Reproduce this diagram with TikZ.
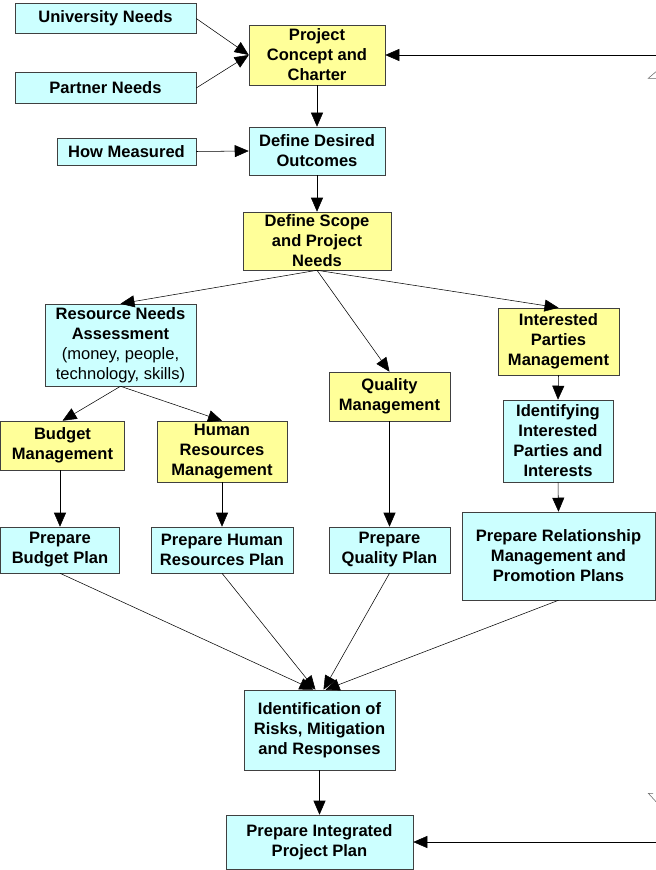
\documentclass[tikz,border=0pt]{standalone}
\usepackage{fontspec}
\setmainfont{Liberation Sans}
\usetikzlibrary{arrows.meta}

\definecolor{boxcyan}{HTML}{CCFFFF}
\definecolor{boxyellow}{HTML}{FFFF99}

\tikzset{
  box/.style={draw=black!75, thin, align=center, inner sep=0pt,
    font=\fontsize{12.4}{15}\selectfont\bfseries},
  cyanbox/.style={box, fill=boxcyan},
  yellowbox/.style={box, fill=boxyellow},
  flow/.style={-{Triangle[length=10.5pt,width=9pt]}, thin}
}

\begin{document}
\begin{tikzpicture}[x=0.75pt, y=-0.75pt]

\useasboundingbox (0,0) rectangle (656,870);

% Inputs and charter
\node[cyanbox, minimum width=135.75pt, minimum height=22.5pt] (univ) at (105.5,18.5) {University Needs};
\node[cyanbox, minimum width=135.75pt, minimum height=23.25pt] (partner) at (105.5,88) {Partner Needs};
\node[yellowbox, minimum width=102pt, minimum height=45pt] (concept) at (317,55) {Project\\Concept and\\Charter};
\node[cyanbox, minimum width=104.25pt, minimum height=20.25pt] (measured) at (126.5,151.5) {How Measured};
\node[cyanbox, minimum width=102pt, minimum height=36pt] (outcomes) at (317,151) {Define Desired\\Outcomes};
\node[yellowbox, minimum width=111pt, minimum height=43.5pt] (scope) at (317,241) {Define Scope\\and Project\\Needs};

% Second level
\node[cyanbox, minimum width=113.25pt, minimum height=61.5pt] (resource) at (120.5,345)
  {Resource Needs\\Assessment\\{\mdseries(money, people,}\\{\mdseries technology, skills)}};
\node[yellowbox, minimum width=90.75pt, minimum height=36.75pt] (quality) at (389.5,396.5) {Quality\\Management};
\node[yellowbox, minimum width=90.75pt, minimum height=50.25pt] (parties) at (558.5,341.5) {Interested\\Parties\\Management};

% Third level
\node[yellowbox, minimum width=93pt, minimum height=36.75pt] (budget) at (62.5,445.5) {Budget\\Management};
\node[yellowbox, minimum width=97.5pt, minimum height=45.75pt] (humanres) at (222,451.5) {Human\\Resources\\Management};
\node[cyanbox, minimum width=82.5pt, minimum height=61.5pt] (identify) at (558,441) {Identifying\\Interested\\Parties and\\Interests};

% Plans
\node[cyanbox, minimum width=89.25pt, minimum height=34.5pt] (budgetplan) at (60,550) {Prepare\\Budget Plan};
\node[cyanbox, minimum width=106.5pt, minimum height=34.5pt] (hrplan) at (222,550) {Prepare Human\\Resources Plan};
\node[cyanbox, minimum width=90.75pt, minimum height=34.5pt] (qualityplan) at (389.5,550) {Prepare\\Quality Plan};
\node[cyanbox, minimum width=144.75pt, minimum height=66pt] (relplan) at (558.5,556) {Prepare Relationship\\Management and\\Promotion Plans};

% Risks and integrated plan
\node[cyanbox, minimum width=113.25pt, minimum height=60pt] (risks) at (319.5,730) {Identification of\\Risks, Mitigation\\and Responses};
\node[cyanbox, minimum width=140.25pt, minimum height=40.5pt] (integrated) at (319.5,842) {Prepare Integrated\\Project Plan};

% feedback ends (cut off at the right edge)
\coordinate (fbtop) at (656,55);
\coordinate (fbbot) at (656,842);

% Connectors
\draw[flow] (univ.east) -- (concept.west);
\draw[flow] (partner.east) -- (concept.west);
\draw[flow] (concept.south) -- (outcomes.north);
\draw[flow] (measured.east) -- (outcomes.west);
\draw[flow] (outcomes.south) -- (scope.north);
\foreach \n in {resource, quality, parties}
  \draw[flow] (scope.south) -- (\n.north);
\foreach \n in {budget, humanres}
  \draw[flow] (resource.south) -- (\n.north);
\draw[flow] (parties.south) -- (identify.north);
\draw[flow] (identify.south) -- (relplan.north);
\draw[flow] (budget.south -| budgetplan.north) -- (budgetplan.north);
\draw[flow] (humanres.south) -- (hrplan.north);
\draw[flow] (quality.south) -- (qualityplan.north);
\foreach \n/\dx in {budgetplan/-6, hrplan/-4, qualityplan/4, relplan/6}
  \draw[flow] (\n.south) -- ([xshift=\dx*0.75pt]risks.north);
\draw[flow] (risks.south) -- (integrated.north);
\draw[flow] (fbtop) -- (concept.east);
\draw[flow] (fbbot) -- (integrated.east);

% bits of shapes cut off at the right edge
\draw[black!60, thin] (656,71.7) -- (648.3,78.3) -- (656,78.3);
\draw[black!60, thin] (653,793.3) -- (648.3,793.3) -- (656,801.7);

\end{tikzpicture}
\end{document}
